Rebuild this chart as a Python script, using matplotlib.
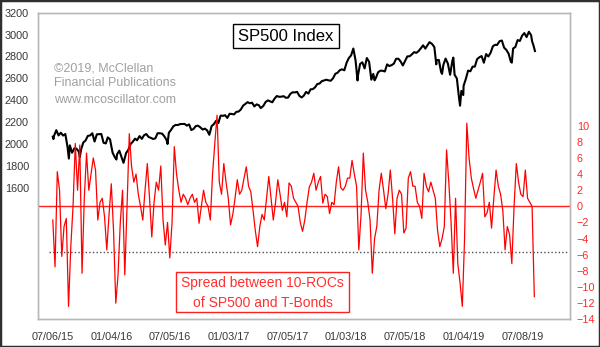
import matplotlib
matplotlib.use("Agg")
import matplotlib.pyplot as plt
import pandas as pd
from matplotlib.patches import Rectangle

plt.rcParams['font.family'] = ['Liberation Sans', 'DejaVu Sans']

# S&P 500 closes (weekly, plus notable swing days)
sp_dates = [
    "2015-07-06", "2015-07-08", "2015-07-10", "2015-07-17", "2015-07-24", "2015-07-31",
    "2015-08-07", "2015-08-14", "2015-08-21", "2015-08-25", "2015-08-28", "2015-09-04",
    "2015-09-11", "2015-09-18", "2015-09-25", "2015-09-28", "2015-10-02", "2015-10-09",
    "2015-10-16", "2015-10-23", "2015-10-30", "2015-11-06", "2015-11-13", "2015-11-20",
    "2015-11-27", "2015-12-04", "2015-12-11", "2015-12-18", "2015-12-24", "2015-12-31",
    "2016-01-08", "2016-01-15", "2016-01-20", "2016-01-22", "2016-01-29", "2016-02-05",
    "2016-02-11", "2016-02-19", "2016-02-26", "2016-03-04", "2016-03-11", "2016-03-18",
    "2016-03-24", "2016-04-01", "2016-04-08", "2016-04-15", "2016-04-22", "2016-04-29",
    "2016-05-06", "2016-05-13", "2016-05-20", "2016-05-27", "2016-06-03", "2016-06-10",
    "2016-06-17", "2016-06-24", "2016-06-27", "2016-07-01", "2016-07-08", "2016-07-15",
    "2016-07-22", "2016-07-29", "2016-08-05", "2016-08-12", "2016-08-19", "2016-08-26",
    "2016-09-02", "2016-09-09", "2016-09-16", "2016-09-23", "2016-09-30", "2016-10-07",
    "2016-10-14", "2016-10-21", "2016-10-28", "2016-11-04", "2016-11-11", "2016-11-18",
    "2016-11-25", "2016-12-02", "2016-12-09", "2016-12-16", "2016-12-23", "2016-12-30",
    "2017-01-06", "2017-01-13", "2017-01-20", "2017-01-27", "2017-02-03", "2017-02-10",
    "2017-02-17", "2017-02-24", "2017-03-03", "2017-03-10", "2017-03-17", "2017-03-24",
    "2017-03-31", "2017-04-07", "2017-04-13", "2017-04-21", "2017-04-28", "2017-05-05",
    "2017-05-12", "2017-05-19", "2017-05-26", "2017-06-02", "2017-06-09", "2017-06-16",
    "2017-06-23", "2017-06-30", "2017-07-07", "2017-07-14", "2017-07-21", "2017-07-28",
    "2017-08-04", "2017-08-11", "2017-08-18", "2017-08-25", "2017-09-01", "2017-09-08",
    "2017-09-15", "2017-09-22", "2017-09-29", "2017-10-06", "2017-10-13", "2017-10-20",
    "2017-10-27", "2017-11-03", "2017-11-10", "2017-11-17", "2017-11-24", "2017-12-01",
    "2017-12-08", "2017-12-15", "2017-12-22", "2017-12-29", "2018-01-05", "2018-01-12",
    "2018-01-19", "2018-01-26", "2018-02-02", "2018-02-08", "2018-02-09", "2018-02-16",
    "2018-02-23", "2018-03-02", "2018-03-09", "2018-03-16", "2018-03-23", "2018-03-29",
    "2018-04-02", "2018-04-06", "2018-04-13", "2018-04-20", "2018-04-27", "2018-05-04",
    "2018-05-11", "2018-05-18", "2018-05-25", "2018-06-01", "2018-06-08", "2018-06-15",
    "2018-06-22", "2018-06-29", "2018-07-06", "2018-07-13", "2018-07-20", "2018-07-27",
    "2018-08-03", "2018-08-10", "2018-08-17", "2018-08-24", "2018-08-31", "2018-09-07",
    "2018-09-14", "2018-09-20", "2018-09-28", "2018-10-05", "2018-10-11", "2018-10-12",
    "2018-10-19", "2018-10-26", "2018-10-29", "2018-11-02", "2018-11-09", "2018-11-16",
    "2018-11-23", "2018-11-30", "2018-12-03", "2018-12-07", "2018-12-14", "2018-12-21",
    "2018-12-24", "2018-12-28", "2019-01-03", "2019-01-04", "2019-01-11", "2019-01-18",
    "2019-01-25", "2019-02-01", "2019-02-08", "2019-02-15", "2019-02-22", "2019-03-01",
    "2019-03-08", "2019-03-15", "2019-03-22", "2019-03-29", "2019-04-05", "2019-04-12",
    "2019-04-18", "2019-04-26", "2019-05-03", "2019-05-10", "2019-05-17", "2019-05-24",
    "2019-05-31", "2019-06-03", "2019-06-07", "2019-06-14", "2019-06-21", "2019-06-28",
    "2019-07-05", "2019-07-12", "2019-07-19", "2019-07-26", "2019-08-02", "2019-08-05",
    "2019-08-09", "2019-08-14",
]
sp_close = [
    2068, 2046, 2077, 2127, 2079, 2104,
    2078, 2092, 1971, 1868, 1989, 1921,
    1961, 1958, 1931, 1881, 1951, 2015,
    2033, 2075, 2079, 2099, 2023, 2089,
    2090, 2092, 2012, 2006, 2061, 2044,
    1922, 1880, 1859, 1907, 1940, 1880,
    1829, 1918, 1948, 2000, 2022, 2050,
    2035, 2073, 2048, 2081, 2092, 2065,
    2057, 2047, 2052, 2099, 2099, 2096,
    2071, 2037, 2001, 2103, 2130, 2162,
    2175, 2174, 2183, 2184, 2184, 2169,
    2180, 2128, 2139, 2165, 2168, 2153,
    2133, 2141, 2126, 2085, 2164, 2182,
    2213, 2192, 2260, 2258, 2264, 2239,
    2277, 2275, 2271, 2295, 2297, 2316,
    2351, 2367, 2383, 2373, 2378, 2344,
    2363, 2355, 2329, 2349, 2384, 2399,
    2391, 2382, 2416, 2439, 2432, 2433,
    2438, 2423, 2425, 2459, 2473, 2472,
    2477, 2441, 2426, 2443, 2477, 2461,
    2500, 2502, 2519, 2549, 2553, 2575,
    2581, 2588, 2582, 2579, 2602, 2642,
    2652, 2675, 2683, 2674, 2743, 2786,
    2810, 2873, 2762, 2581, 2620, 2732,
    2747, 2691, 2786, 2752, 2588, 2641,
    2582, 2604, 2656, 2670, 2670, 2663,
    2728, 2713, 2721, 2735, 2779, 2780,
    2755, 2718, 2760, 2801, 2802, 2819,
    2840, 2833, 2850, 2875, 2902, 2872,
    2905, 2931, 2914, 2886, 2728, 2767,
    2768, 2659, 2641, 2723, 2781, 2736,
    2633, 2760, 2790, 2633, 2600, 2417,
    2351, 2486, 2448, 2532, 2596, 2671,
    2665, 2707, 2708, 2776, 2793, 2804,
    2743, 2822, 2800, 2834, 2893, 2907,
    2905, 2940, 2946, 2881, 2860, 2826,
    2752, 2744, 2873, 2887, 2950, 2942,
    2990, 3014, 2977, 3026, 2995, 2940,
    2905, 2850,
]

# Spread between 10-day rates of change of SP500 and T-Bonds (weekly)
spread_start = "2015-07-06"
spread_values = [
    -1.7, -7.5, 4.3, 2.0, -6.2, -2.5, -1.5, -12.4, -5.0, 0.0,
    7.8, 2.0, 7.6, -8.3, 1.0, 6.6, 2.0, 4.0, 6.0, 4.5,
    -1.7, 0.5, 1.0, -1.3, -5.4, -1.0, 2.8, -3.0, -12.0, -8.5,
    -2.0, 2.0, -8.5, 0.0, 9.0, 5.0, 3.0, 4.0, 1.5, 0.0,
    -1.7, 2.0, 5.3, 1.0, -3.8, 0.5, 3.0, 2.0, 5.0, -1.7,
    -4.8, -2.0, -6.4, -2.0, 7.4, 4.0, 2.0, 0.5, 1.5, 1.0,
    0.2, 1.0, 1.5, 0.5, 1.0, -2.1, 0.0, 2.0, 0.5, 0.0,
    -1.7, 4.0, 7.8, 11.3, 3.0, 1.5, 5.3, 3.0, 1.0, -2.3,
    -1.0, 1.0, 3.3, 1.5, 2.0, 3.5, 4.9, 2.5, 1.8, -0.5,
    -3.0, -5.0, -2.5, -1.0, -1.7, 1.0, 3.7, 1.0, -1.7, 0.5,
    3.3, 1.5, -0.5, 0.5, -1.3, 2.9, 2.5, 1.0, 0.5, 0.0,
    -2.0, -3.1, -1.7, 0.5, 2.4, 3.0, 4.1, 2.0, 3.0, 3.7,
    0.4, 1.5, 1.2, -0.9, 0.5, 0.2, 3.0, 4.9, 2.3, 2.0,
    2.5, 3.5, 3.5, 5.7, 4.0, 2.5, -5.4, -1.0, 6.6, 2.0,
    0.5, -1.7, -8.3, -4.0, -2.5, 2.0, 4.1, 2.0, -0.3, 1.5,
    4.5, 1.0, -3.4, 1.0, 2.0, 1.5, -3.3, -2.7, 3.5, 4.3,
    2.5, 2.5, 0.5, 0.0, -1.5, 4.1, 2.5, 1.8, 3.0, 2.0,
    1.0, -3.0, -5.0, -4.0, -2.5, 7.0, 3.0, -2.0, -8.3, 1.0,
    -7.1, -9.5, -12.4, -4.0, 10.3, 6.0, 3.5, 2.2, 1.0, 2.0,
    3.0, 4.1, -1.3, -0.8, 0.5, -2.7, 1.0, 4.5, 2.5, 1.5,
    -0.5, -5.4, -2.5, -3.5, -7.1, 0.0, 5.3, 3.0, 1.5, 1.2,
    4.5, 1.0, 0.5, 0.0, -11.2,
]
spread_threshold = -5.6

tick_dates = ["2015-07-06", "2016-01-04", "2016-07-05", "2017-01-03", "2017-07-05",
              "2018-01-03", "2018-07-05", "2019-01-04", "2019-07-08"]
tick_labels = ["07/06/15", "01/04/16", "07/05/16", "01/03/17", "07/05/17",
               "01/03/18", "07/05/18", "01/04/19", "07/08/19"]
left_ticks = list(range(1600, 3201, 200))
right_ticks = list(range(-14, 11, 2))

W, H = 600, 347
fig = plt.figure(figsize=(W / 100, H / 100), dpi=100)
fig.patch.set_facecolor("white")

ax = fig.add_axes([38 / W, 1 - 319.3 / H, 532 / W, 306.6 / H])
ax2 = ax.twinx()

sp_x = pd.to_datetime(sp_dates)
spread_x = pd.date_range(spread_start, periods=len(spread_values), freq="7D")

ax.plot(sp_x, sp_close, color="black", lw=1.5, solid_joinstyle="round", zorder=3)
ax.set_ylim(400, 3200)
ax.set_yticks(left_ticks)
ax.set_xlim(pd.Timestamp("2015-05-21"), pd.Timestamp("2019-12-01"))
ax.set_xticks(pd.to_datetime(tick_dates))
ax.set_xticklabels(tick_labels)

ax2.axhline(0, color="#ff2020", lw=1.0, zorder=1)
ax2.axhline(spread_threshold, xmin=11 / 532, xmax=529 / 532, color="#505050",
            lw=1.0, linestyle=(0, (1, 1.6)), zorder=1)
ax2.plot(spread_x, spread_values, color="#ff0000", lw=0.9, zorder=3)
ax2.set_ylim(-14, 24)
ax2.set_yticks(right_ticks)

for a in (ax, ax2):
    for s in a.spines.values():
        s.set_color("#b8b8b8")
        s.set_linewidth(1.0)
    a.set_facecolor("none")

ax.tick_params(axis="both", length=0, labelsize=7.8, colors="#383838")
ax.tick_params(axis="y", pad=6.5)
ax.tick_params(axis="x", pad=9.5)
ax2.tick_params(axis="y", length=0, labelsize=7.8, colors="#ff2a2a", pad=5)

# title box
fig.patches.append(Rectangle((233 / W, 1 - 48.3 / H), 106.3 / W, 24 / H,
                             transform=fig.transFigure, fill=True, facecolor="white",
                             edgecolor="black", lw=1.0, zorder=5))
fig.text(285.5 / W, 1 - 36.3 / H, "SP500 Index", ha="center", va="center",
         fontsize=12, color="black", zorder=6)

# copyright notice
for txt, yy in [("©2019, McClellan", 68.3), ("Financial Publications", 83.5),
                ("www.mcoscillator.com", 100.0)]:
    fig.text(54 / W, 1 - yy / H, txt, ha="left", va="center", fontsize=9,
             color="#a0a0a0", zorder=6)

# series caption box
fig.patches.append(Rectangle((176 / W, 1 - 312.3 / H), 173.3 / W, 40 / H,
                             transform=fig.transFigure, fill=True, facecolor="white",
                             edgecolor="#ff2020", lw=1.0, zorder=5))
fig.text(262.7 / W, 1 - 283.3 / H, "Spread between 10-ROCs", ha="center", va="center",
         fontsize=10, color="#ff3030", zorder=6)
fig.text(262.7 / W, 1 - 302.7 / H, "of SP500 and T-Bonds", ha="center", va="center",
         fontsize=10, color="#ff3030", zorder=6)

# outer frame
fig.patches.append(Rectangle((0, 0), 1, 1, transform=fig.transFigure, fill=False,
                             edgecolor="#303030", lw=2.5, zorder=10))

fig.savefig("out.png", dpi=100, facecolor="white")
